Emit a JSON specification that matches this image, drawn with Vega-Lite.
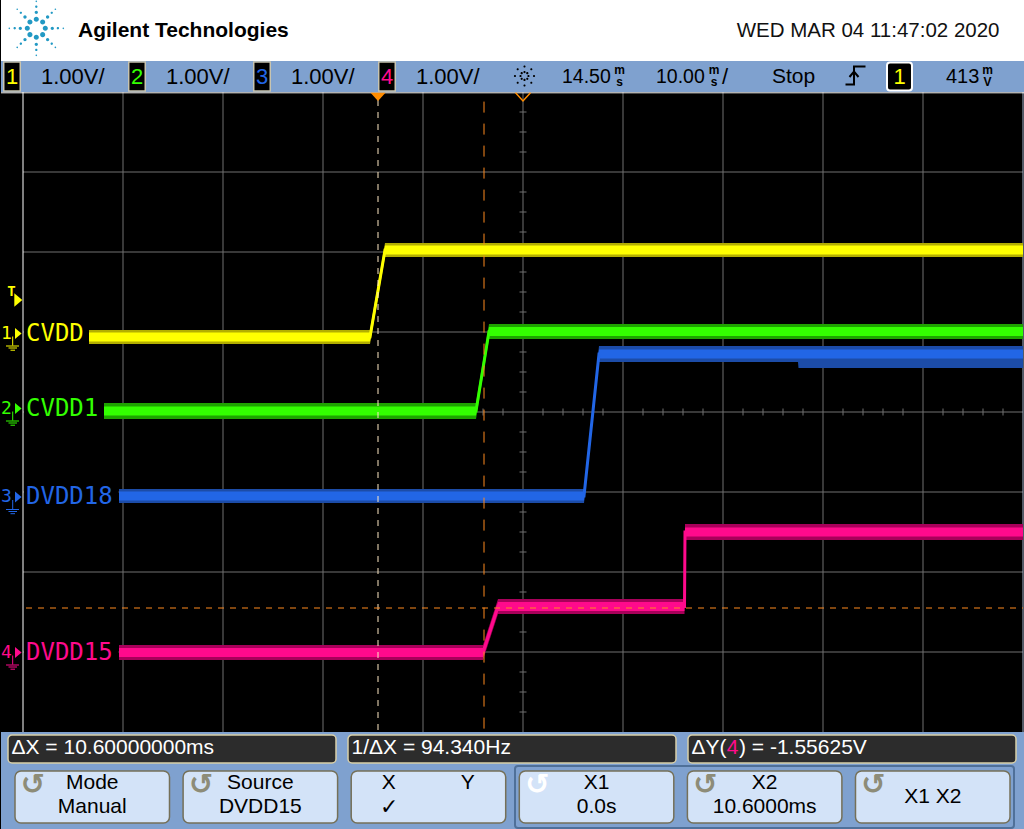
{
"$schema": "https://vega.github.io/schema/vega-lite/v6.json",
"background": "#000000",
"padding": 0,
"spacing": 0,
"bounds": "flush",
"resolve": {"scale": {"color": "independent"}},
"config": {"view": {"stroke": null}, "font": "Liberation Sans"},
"datasets": {
 "one": [{}],
 "wave": [
  {"ch":"1","t":-28.9,"level":0.9375,"hi":1.025,"lo":0.85,"chi":0.9925,"clo":0.8825},
  {"ch":"1","t":-0.8,"level":0.9375,"hi":1.025,"lo":0.85,"chi":0.9925,"clo":0.8825},
  {"ch":"1","t":0.7,"level":2.025,"hi":2.1125,"lo":1.9375,"chi":2.08,"clo":1.97},
  {"ch":"1","t":64.5,"level":2.025,"hi":2.1125,"lo":1.9375,"chi":2.08,"clo":1.97},
  {"ch":"2","t":-27.4,"level":0.0125,"hi":0.1125,"lo":-0.0875,"chi":0.0675,"clo":-0.0425},
  {"ch":"2","t":9.8,"level":0.0125,"hi":0.1125,"lo":-0.0875,"chi":0.0675,"clo":-0.0425},
  {"ch":"2","t":11.1,"level":1.00625,"hi":1.1,"lo":0.9125,"chi":1.06125,"clo":0.95125},
  {"ch":"2","t":64.5,"level":1.00625,"hi":1.1,"lo":0.9125,"chi":1.06125,"clo":0.95125},
  {"ch":"3","t":-25.9,"level":-1.05,"hi":-0.9625,"lo":-1.1375,"chi":-0.995,"clo":-1.105},
  {"ch":"3","t":20.6,"level":-1.05,"hi":-0.9625,"lo":-1.1375,"chi":-0.995,"clo":-1.105},
  {"ch":"3","t":22.1,"level":0.725,"hi":0.825,"lo":0.625,"chi":0.78,"clo":0.67},
  {"ch":"3","t":42.0,"level":0.725,"hi":0.825,"lo":0.625,"chi":0.78,"clo":0.67},
  {"ch":"3","t":42.05,"level":0.725,"hi":0.825,"lo":0.55,"chi":0.78,"clo":0.67},
  {"ch":"3","t":64.5,"level":0.725,"hi":0.825,"lo":0.55,"chi":0.78,"clo":0.67},
  {"ch":"4","t":-25.9,"level":-3.00625,"hi":-2.9125,"lo":-3.1,"chi":-2.95125,"clo":-3.06125},
  {"ch":"4","t":10.5,"level":-3.00625,"hi":-2.9125,"lo":-3.1,"chi":-2.95125,"clo":-3.06125},
  {"ch":"4","t":12.0,"level":-2.43125,"hi":-2.3375,"lo":-2.525,"chi":-2.37625,"clo":-2.48625},
  {"ch":"4","t":30.65,"level":-2.43125,"hi":-2.3375,"lo":-2.525,"chi":-2.37625,"clo":-2.48625},
  {"ch":"4","t":30.7,"level":-1.5,"hi":-1.4,"lo":-1.6,"chi":-1.445,"clo":-1.555},
  {"ch":"4","t":64.5,"level":-1.5,"hi":-1.4,"lo":-1.6,"chi":-1.445,"clo":-1.555}
 ],
 "chans": [
  {"ch":"1","name":"CVDD","gnd":0.98125},
  {"ch":"2","name":"CVDD1","gnd":0.04375},
  {"ch":"3","name":"DVDD18","gnd":-1.0625},
  {"ch":"4","name":"DVDD15","gnd":-3.00625}
 ],
 "status": [
  {"ch":"1","vdiv":"1.00V/"},
  {"ch":"2","vdiv":"1.00V/"},
  {"ch":"3","vdiv":"1.00V/"},
  {"ch":"4","vdiv":"1.00V/"}
 ],
 "meas": [
  {"m":"a","label":"ΔX = 10.60000000ms"},
  {"m":"b","label":"1/ΔX = 94.340Hz"},
  {"m":"c","label":"ΔY("}
 ],
 "keys": [
  {"key":"1","line1":"Mode","line2":"Manual","single":"","icon":"↺","state":"off"},
  {"key":"2","line1":"Source","line2":"DVDD15","single":"","icon":"↺","state":"off"},
  {"key":"3","line1":"","line2":"","single":"","icon":"","state":"off"},
  {"key":"4","line1":"X1","line2":"0.0s","single":"","icon":"↺","state":"on"},
  {"key":"5","line1":"X2","line2":"10.6000ms","single":"","icon":"↺","state":"off"},
  {"key":"6","line1":"","line2":"","single":"X1 X2","icon":"↺","state":"off"}
 ],
 "xticks": [{"t":-33.5},{"t":-31.5},{"t":-29.5},{"t":-27.5},{"t":-23.5},{"t":-21.5},{"t":-19.5},{"t":-17.5},{"t":-13.5},{"t":-11.5},{"t":-9.5},{"t":-7.5},{"t":-3.5},{"t":-1.5},{"t":0.5},{"t":2.5},{"t":6.5},{"t":8.5},{"t":10.5},{"t":12.5},{"t":16.5},{"t":18.5},{"t":20.5},{"t":22.5},{"t":26.5},{"t":28.5},{"t":30.5},{"t":32.5},{"t":36.5},{"t":38.5},{"t":40.5},{"t":42.5},{"t":46.5},{"t":48.5},{"t":50.5},{"t":52.5},{"t":56.5},{"t":58.5},{"t":60.5},{"t":62.5}],
 "yticks": [{"g":-3.75},{"g":-3.5},{"g":-3.25},{"g":-2.75},{"g":-2.5},{"g":-2.25},{"g":-1.75},{"g":-1.5},{"g":-1.25},{"g":-0.75},{"g":-0.5},{"g":-0.25},{"g":0.25},{"g":0.5},{"g":0.75},{"g":1.25},{"g":1.5},{"g":1.75},{"g":2.25},{"g":2.5},{"g":2.75},{"g":3.25},{"g":3.5},{"g":3.75}]
},
"vconcat": [
 {
  "width": 1024, "height": 92,
  "view": {"fill": "#FFFFFF", "stroke": null},
  "resolve": {"scale": {"x": "independent"}},
  "layer": [
   {
    "data": {"name": "one"},
    "layer": [
     {"mark": {"type": "rect", "color": "#7FA1CF"},
      "encoding": {"x": {"datum": 0, "type": "quantitative", "scale": {"domain": [0, 1024], "nice": false, "zero": false}, "axis": null},
                   "x2": {"datum": 1024},
                   "y": {"datum": 61, "type": "quantitative", "scale": {"domain": [0, 92], "reverse": true, "nice": false, "zero": false}, "axis": null},
                   "y2": {"datum": 92}}},
     {"mark": {"type": "point", "shape": "M-0.085,-0.3a0.085,0.085 0 1 0 0.17,0a0.085,0.085 0 1 0 -0.17,0M0.127,-0.212a0.085,0.085 0 1 0 0.17,0a0.085,0.085 0 1 0 -0.17,0M0.215,0a0.085,0.085 0 1 0 0.17,0a0.085,0.085 0 1 0 -0.17,0M0.127,0.212a0.085,0.085 0 1 0 0.17,0a0.085,0.085 0 1 0 -0.17,0M-0.085,0.3a0.085,0.085 0 1 0 0.17,0a0.085,0.085 0 1 0 -0.17,0M-0.297,0.212a0.085,0.085 0 1 0 0.17,0a0.085,0.085 0 1 0 -0.17,0M-0.385,0a0.085,0.085 0 1 0 0.17,0a0.085,0.085 0 1 0 -0.17,0M-0.297,-0.212a0.085,0.085 0 1 0 0.17,0a0.085,0.085 0 1 0 -0.17,0M-0.055,-0.533a0.055,0.055 0 1 0 0.11,0a0.055,0.055 0 1 0 -0.11,0M0.322,-0.377a0.055,0.055 0 1 0 0.11,0a0.055,0.055 0 1 0 -0.11,0M0.478,0a0.055,0.055 0 1 0 0.11,0a0.055,0.055 0 1 0 -0.11,0M0.322,0.377a0.055,0.055 0 1 0 0.11,0a0.055,0.055 0 1 0 -0.11,0M-0.055,0.533a0.055,0.055 0 1 0 0.11,0a0.055,0.055 0 1 0 -0.11,0M-0.432,0.377a0.055,0.055 0 1 0 0.11,0a0.055,0.055 0 1 0 -0.11,0M-0.588,0a0.055,0.055 0 1 0 0.11,0a0.055,0.055 0 1 0 -0.11,0M-0.432,-0.377a0.055,0.055 0 1 0 0.11,0a0.055,0.055 0 1 0 -0.11,0M-0.04,-0.72a0.04,0.04 0 1 0 0.08,0a0.04,0.04 0 1 0 -0.08,0M0.475,-0.515a0.04,0.04 0 1 0 0.08,0a0.04,0.04 0 1 0 -0.08,0M0.68,0a0.04,0.04 0 1 0 0.08,0a0.04,0.04 0 1 0 -0.08,0M0.475,0.515a0.04,0.04 0 1 0 0.08,0a0.04,0.04 0 1 0 -0.08,0M-0.04,0.72a0.04,0.04 0 1 0 0.08,0a0.04,0.04 0 1 0 -0.08,0M-0.555,0.515a0.04,0.04 0 1 0 0.08,0a0.04,0.04 0 1 0 -0.08,0M-0.76,0a0.04,0.04 0 1 0 0.08,0a0.04,0.04 0 1 0 -0.08,0M-0.555,-0.515a0.04,0.04 0 1 0 0.08,0a0.04,0.04 0 1 0 -0.08,0M-0.028,-0.9a0.028,0.028 0 1 0 0.056,0a0.028,0.028 0 1 0 -0.056,0M0.608,-0.636a0.028,0.028 0 1 0 0.056,0a0.028,0.028 0 1 0 -0.056,0M0.872,0a0.028,0.028 0 1 0 0.056,0a0.028,0.028 0 1 0 -0.056,0M0.608,0.636a0.028,0.028 0 1 0 0.056,0a0.028,0.028 0 1 0 -0.056,0M-0.028,0.9a0.028,0.028 0 1 0 0.056,0a0.028,0.028 0 1 0 -0.056,0M-0.664,0.636a0.028,0.028 0 1 0 0.056,0a0.028,0.028 0 1 0 -0.056,0M-0.928,0a0.028,0.028 0 1 0 0.056,0a0.028,0.028 0 1 0 -0.056,0M-0.664,-0.636a0.028,0.028 0 1 0 0.056,0a0.028,0.028 0 1 0 -0.056,0", "size": 3600, "filled": true, "color": "#2299C4", "opacity": 1, "strokeWidth": 0},
      "encoding": {"x": {"datum": 35.3, "axis": null}, "y": {"datum": 28.3, "axis": null}}},
     {"mark": {"type": "text", "text": "Agilent Technologies", "align": "left", "baseline": "alphabetic", "fontWeight": "bold", "fontSize": 21, "color": "#000000"},
      "encoding": {"x": {"datum": 77, "axis": null}, "y": {"datum": 36.7, "axis": null}}},
     {"mark": {"type": "text", "text": "WED MAR 04 11:47:02 2020", "align": "right", "baseline": "alphabetic", "fontSize": 20.5, "color": "#111111"},
      "encoding": {"x": {"datum": 998.5, "axis": null}, "y": {"datum": 37.3, "axis": null}}},
     {"mark": {"type": "point", "shape": "M-0.085,-0.3a0.085,0.085 0 1 0 0.17,0a0.085,0.085 0 1 0 -0.17,0M0.127,-0.212a0.085,0.085 0 1 0 0.17,0a0.085,0.085 0 1 0 -0.17,0M0.215,0a0.085,0.085 0 1 0 0.17,0a0.085,0.085 0 1 0 -0.17,0M0.127,0.212a0.085,0.085 0 1 0 0.17,0a0.085,0.085 0 1 0 -0.17,0M-0.085,0.3a0.085,0.085 0 1 0 0.17,0a0.085,0.085 0 1 0 -0.17,0M-0.297,0.212a0.085,0.085 0 1 0 0.17,0a0.085,0.085 0 1 0 -0.17,0M-0.385,0a0.085,0.085 0 1 0 0.17,0a0.085,0.085 0 1 0 -0.17,0M-0.297,-0.212a0.085,0.085 0 1 0 0.17,0a0.085,0.085 0 1 0 -0.17,0M-0.08,-0.72a0.08,0.08 0 1 0 0.16,0a0.08,0.08 0 1 0 -0.16,0M0.435,-0.515a0.08,0.08 0 1 0 0.16,0a0.08,0.08 0 1 0 -0.16,0M0.64,0a0.08,0.08 0 1 0 0.16,0a0.08,0.08 0 1 0 -0.16,0M0.435,0.515a0.08,0.08 0 1 0 0.16,0a0.08,0.08 0 1 0 -0.16,0M-0.08,0.72a0.08,0.08 0 1 0 0.16,0a0.08,0.08 0 1 0 -0.16,0M-0.595,0.515a0.08,0.08 0 1 0 0.16,0a0.08,0.08 0 1 0 -0.16,0M-0.8,0a0.08,0.08 0 1 0 0.16,0a0.08,0.08 0 1 0 -0.16,0M-0.595,-0.515a0.08,0.08 0 1 0 0.16,0a0.08,0.08 0 1 0 -0.16,0", "size": 700, "filled": true, "color": "#000000", "opacity": 1, "strokeWidth": 0},
      "encoding": {"x": {"datum": 523.5, "axis": null}, "y": {"datum": 76, "axis": null}}},
     {"mark": {"type": "text", "text": "14.50", "align": "left", "baseline": "middle", "fontSize": 19.5, "color": "#000000"},
      "encoding": {"x": {"datum": 561, "axis": null}, "y": {"datum": 77, "axis": null}}},
     {"mark": {"type": "text", "text": "m", "align": "center", "baseline": "middle", "fontSize": 12, "fontWeight": "bold", "color": "#000000"},
      "encoding": {"x": {"datum": 618.5, "axis": null}, "y": {"datum": 69.5, "axis": null}}},
     {"mark": {"type": "text", "text": "s", "align": "center", "baseline": "middle", "fontSize": 12, "fontWeight": "bold", "color": "#000000"},
      "encoding": {"x": {"datum": 618.5, "axis": null}, "y": {"datum": 82, "axis": null}}},
     {"mark": {"type": "text", "text": "10.00", "align": "left", "baseline": "middle", "fontSize": 19.5, "color": "#000000"},
      "encoding": {"x": {"datum": 655, "axis": null}, "y": {"datum": 77, "axis": null}}},
     {"mark": {"type": "text", "text": "m", "align": "center", "baseline": "middle", "fontSize": 12, "fontWeight": "bold", "color": "#000000"},
      "encoding": {"x": {"datum": 713, "axis": null}, "y": {"datum": 69.5, "axis": null}}},
     {"mark": {"type": "text", "text": "s", "align": "center", "baseline": "middle", "fontSize": 12, "fontWeight": "bold", "color": "#000000"},
      "encoding": {"x": {"datum": 713, "axis": null}, "y": {"datum": 82, "axis": null}}},
     {"mark": {"type": "text", "text": "/", "align": "left", "baseline": "middle", "fontSize": 22, "color": "#000000"},
      "encoding": {"x": {"datum": 721, "axis": null}, "y": {"datum": 77, "axis": null}}},
     {"mark": {"type": "text", "text": "Stop", "align": "left", "baseline": "middle", "fontSize": 21, "color": "#000000"},
      "encoding": {"x": {"datum": 771, "axis": null}, "y": {"datum": 77, "axis": null}}},
     {"mark": {"type": "point", "shape": "M-1,0.9L-0.15,0.9L-0.15,-0.9L1,-0.9M-0.6,0.15L-0.15,-0.4L0.3,0.15", "size": 400, "filled": false, "color": "#000000", "strokeWidth": 2, "opacity": 1},
      "encoding": {"x": {"datum": 854.5, "axis": null}, "y": {"datum": 75.5, "axis": null}}},
     {"mark": {"type": "rect", "fill": "#000000", "stroke": "#FFFFFF", "strokeWidth": 2, "cornerRadius": 3},
      "encoding": {"x": {"datum": 886, "axis": null}, "x2": {"datum": 911}, "y": {"datum": 62.5, "axis": null}, "y2": {"datum": 90.5}}},
     {"mark": {"type": "text", "text": "1", "align": "center", "baseline": "middle", "fontSize": 22, "color": "#FFFF00"},
      "encoding": {"x": {"datum": 898.5, "axis": null}, "y": {"datum": 77, "axis": null}}},
     {"mark": {"type": "text", "text": "413", "align": "left", "baseline": "middle", "fontSize": 20, "color": "#000000"},
      "encoding": {"x": {"datum": 945, "axis": null}, "y": {"datum": 77, "axis": null}}},
     {"mark": {"type": "text", "text": "m", "align": "center", "baseline": "middle", "fontSize": 12, "fontWeight": "bold", "color": "#000000"},
      "encoding": {"x": {"datum": 986.5, "axis": null}, "y": {"datum": 69.5, "axis": null}}},
     {"mark": {"type": "text", "text": "V", "align": "center", "baseline": "middle", "fontSize": 12, "fontWeight": "bold", "color": "#000000"},
      "encoding": {"x": {"datum": 986.5, "axis": null}, "y": {"datum": 82, "axis": null}}}
    ]
   },
   {
    "data": {"name": "status"},
    "layer": [
     {"mark": {"type": "point", "shape": "M-0.57,-1L0.57,-1L0.57,1L-0.57,1Z", "size": 841, "filled": true, "fill": "#000000", "stroke": "#C8C4B0", "strokeWidth": 1.5, "opacity": 1},
      "encoding": {"x": {"field": "ch", "type": "ordinal", "scale": {"type": "point", "range": [11, 386], "padding": 0}, "axis": null}, "y": {"datum": 76.5, "axis": null}}},
     {"mark": {"type": "text", "fontSize": 22, "baseline": "middle", "align": "center"},
      "encoding": {"x": {"field": "ch", "type": "ordinal", "axis": null}, "y": {"datum": 77, "axis": null}, "text": {"field": "ch", "type": "nominal"},
                   "color": {"field": "ch", "type": "nominal", "scale": {"domain": ["1", "2", "3", "4"], "range": ["#FFFF00", "#33FF00", "#2266E6", "#FF0A8C"]}, "legend": null}}},
     {"mark": {"type": "text", "fontSize": 22, "baseline": "middle", "align": "left", "xOffset": 29, "color": "#000000"},
      "encoding": {"x": {"field": "ch", "type": "ordinal", "axis": null}, "y": {"datum": 77, "axis": null}, "text": {"field": "vdiv", "type": "nominal"}}}
    ]
   }
  ]
 },
 {
  "width": 1024, "height": 640,
  "view": {"fill": "#000000", "stroke": null},
  "resolve": {"scale": {"color": "independent"}},
  "layer": [
   {"data": {"values": [{"t": -25.5}, {"t": -15.5}, {"t": -5.5}, {"t": 4.5}, {"t": 14.5}, {"t": 24.5}, {"t": 34.5}, {"t": 44.5}, {"t": 54.5}]},
    "mark": {"type": "rule", "color": "#707070", "strokeWidth": 1},
    "encoding": {"x": {"field": "t", "type": "quantitative", "scale": {"domain": [-37.7, 64.7], "nice": false, "zero": false}, "axis": null},
                 "y": {"datum": 4, "type": "quantitative", "scale": {"domain": [-4, 4], "nice": false, "zero": false}, "axis": null}, "y2": {"datum": -4}}},
   {"data": {"values": [{"g": -3}, {"g": -2}, {"g": -1}, {"g": 0}, {"g": 1}, {"g": 2}, {"g": 3}]},
    "mark": {"type": "rule", "color": "#707070", "strokeWidth": 1},
    "encoding": {"y": {"field": "g", "type": "quantitative", "axis": null}, "x": {"datum": -35.5, "axis": null}, "x2": {"datum": 64.5}}},
   {"data": {"name": "xticks"},
    "mark": {"type": "tick", "orient": "vertical", "color": "#707070", "size": 7, "thickness": 1, "opacity": 1},
    "encoding": {"x": {"field": "t", "type": "quantitative", "axis": null}, "y": {"datum": 0, "axis": null}}},
   {"data": {"name": "yticks"},
    "mark": {"type": "tick", "orient": "horizontal", "color": "#707070", "size": 7, "thickness": 1, "opacity": 1},
    "encoding": {"y": {"field": "g", "type": "quantitative", "axis": null}, "x": {"datum": 14.5, "axis": null}}},
   {"data": {"name": "one"},
    "mark": {"type": "rule", "color": "#FFFFFF", "strokeWidth": 1},
    "encoding": {"x": {"datum": -35.5, "axis": null}, "y": {"datum": 4, "axis": null}, "y2": {"datum": -4}}},
   {"data": {"name": "one"},
    "mark": {"type": "rule", "color": "#A4B4CC", "strokeWidth": 1},
    "encoding": {"x": {"datum": 64.5, "axis": null}, "y": {"datum": 4, "axis": null}, "y2": {"datum": -4}}},
   {"data": {"name": "one"},
    "mark": {"type": "rule", "color": "#FFFFFF", "strokeWidth": 1},
    "encoding": {"y": {"datum": 3.99, "axis": null}, "x": {"datum": -37.7, "axis": null}, "x2": {"datum": 64.7}}},
   {"data": {"name": "chans"},
    "mark": {"type": "rect", "color": "#000000", "yOffset": -11, "y2Offset": 11},
    "encoding": {"x": {"datum": -35.4, "axis": null}, "x2": {"datum": -25.95}, "y": {"field": "gnd", "type": "quantitative", "axis": null}, "y2": {"field": "gnd"}}},
   {"data": {"name": "wave"},
    "mark": {"type": "area", "opacity": 1},
    "encoding": {"x": {"field": "t", "type": "quantitative", "axis": null}, "y": {"field": "hi", "type": "quantitative", "stack": null, "axis": null}, "y2": {"field": "lo"},
                 "color": {"field": "ch", "type": "nominal", "scale": {"domain": ["1", "2", "3", "4"], "range": ["#B3AE00", "#1EA300", "#1C4CA8", "#A8005A"]}, "legend": null}}},
   {"data": {"name": "wave"},
    "mark": {"type": "area", "opacity": 1},
    "encoding": {"x": {"field": "t", "type": "quantitative", "axis": null}, "y": {"field": "chi", "type": "quantitative", "stack": null, "axis": null}, "y2": {"field": "clo"},
                 "color": {"field": "ch", "type": "nominal", "scale": {"domain": ["1", "2", "3", "4"], "range": ["#FFFF00", "#33FF00", "#2266E6", "#FF0A8C"]}, "legend": null}}},
   {"data": {"name": "wave"},
    "mark": {"type": "line", "strokeWidth": 3, "strokeCap": "butt"},
    "encoding": {"x": {"field": "t", "type": "quantitative", "axis": null}, "y": {"field": "level", "type": "quantitative", "axis": null},
                 "color": {"field": "ch", "type": "nominal", "scale": {"domain": ["1", "2", "3", "4"], "range": ["#FFFF00", "#33FF00", "#2266E6", "#FF0A8C"]}, "legend": null}}},
   {"data": {"name": "one"},
    "mark": {"type": "rule", "color": "#FFE9C4", "strokeDash": [6, 6], "strokeWidth": 1},
    "encoding": {"x": {"datum": 0, "axis": null}, "y": {"datum": 3.9, "axis": null}, "y2": {"datum": -4}}},
   {"data": {"name": "one"},
    "mark": {"type": "rule", "color": "#FF8A1E", "strokeDash": [11, 11], "strokeWidth": 1},
    "encoding": {"x": {"datum": 10.6, "axis": null}, "y": {"datum": 3.88, "axis": null}, "y2": {"datum": -4}}},
   {"data": {"name": "one"},
    "mark": {"type": "rule", "color": "#FF8A1E", "strokeDash": [6, 6], "strokeWidth": 1},
    "encoding": {"x": {"datum": -35.2, "axis": null}, "x2": {"datum": 64.5}, "y": {"datum": -2.45, "axis": null}}},
   {"data": {"name": "one"},
    "mark": {"type": "point", "shape": "M-1,-0.55L1,-0.55L0,0.55Z", "size": 225, "filled": true, "color": "#FF8C00", "opacity": 1, "strokeWidth": 0},
    "encoding": {"x": {"datum": 0, "axis": null}, "y": {"datum": 3.94, "axis": null}}},
   {"data": {"name": "one"},
    "mark": {"type": "point", "shape": "M-1,-0.55L0,0.55L1,-0.55", "size": 225, "filled": false, "color": "#FF8C00", "strokeWidth": 1.5, "opacity": 1},
    "encoding": {"x": {"datum": 14.5, "axis": null}, "y": {"datum": 3.94, "axis": null}}},
   {"data": {"name": "chans"},
    "mark": {"type": "text", "align": "left", "baseline": "middle", "font": "DejaVu Sans Mono", "fontSize": 24},
    "encoding": {"x": {"datum": -35.2, "axis": null}, "y": {"field": "gnd", "type": "quantitative", "axis": null}, "text": {"field": "name", "type": "nominal"},
                 "color": {"field": "ch", "type": "nominal", "scale": {"domain": ["1", "2", "3", "4"], "range": ["#FFFF00", "#33FF00", "#2266E6", "#FF0A8C"]}, "legend": null}}},
   {"data": {"name": "chans"},
    "mark": {"type": "text", "align": "center", "baseline": "middle", "font": "DejaVu Sans Mono", "fontSize": 18},
    "encoding": {"x": {"datum": -37.15, "axis": null}, "y": {"field": "gnd", "type": "quantitative", "axis": null}, "text": {"field": "ch", "type": "nominal"},
                 "color": {"field": "ch", "type": "nominal", "scale": {"domain": ["1", "2", "3", "4"], "range": ["#FFFF00", "#33FF00", "#2266E6", "#FF0A8C"]}, "legend": null}}},
   {"data": {"name": "chans"},
    "mark": {"type": "point", "shape": "M-0.6,-1L0.6,0L-0.6,1Z", "size": 121, "filled": true, "opacity": 1, "strokeWidth": 0},
    "encoding": {"x": {"datum": -35.97, "axis": null}, "y": {"field": "gnd", "type": "quantitative", "axis": null},
                 "color": {"field": "ch", "type": "nominal", "scale": {"domain": ["1", "2", "3", "4"], "range": ["#FFFF00", "#33FF00", "#2266E6", "#FF0A8C"]}, "legend": null}}},
   {"data": {"name": "chans"},
    "mark": {"type": "rule", "strokeWidth": 1, "yOffset": 3, "y2Offset": 12},
    "encoding": {"x": {"datum": -36.53, "axis": null}, "y": {"field": "gnd", "type": "quantitative", "axis": null}, "y2": {"field": "gnd"},
                 "color": {"field": "ch", "type": "nominal", "scale": {"domain": ["1", "2", "3", "4"], "range": ["#FFFF00", "#33FF00", "#2266E6", "#FF0A8C"]}, "legend": null}}},
   {"data": {"name": "chans"},
    "mark": {"type": "rule", "strokeWidth": 1, "yOffset": 12.5},
    "encoding": {"x": {"datum": -37.2, "axis": null}, "x2": {"datum": -35.9}, "y": {"field": "gnd", "type": "quantitative", "axis": null},
                 "color": {"field": "ch", "type": "nominal", "scale": {"domain": ["1", "2", "3", "4"], "range": ["#FFFF00", "#33FF00", "#2266E6", "#FF0A8C"]}, "legend": null}}},
   {"data": {"name": "chans"},
    "mark": {"type": "rule", "strokeWidth": 1, "yOffset": 14.5},
    "encoding": {"x": {"datum": -36.95, "axis": null}, "x2": {"datum": -36.1}, "y": {"field": "gnd", "type": "quantitative", "axis": null},
                 "color": {"field": "ch", "type": "nominal", "scale": {"domain": ["1", "2", "3", "4"], "range": ["#FFFF00", "#33FF00", "#2266E6", "#FF0A8C"]}, "legend": null}}},
   {"data": {"name": "chans"},
    "mark": {"type": "rule", "strokeWidth": 1, "yOffset": 16.7},
    "encoding": {"x": {"datum": -36.75, "axis": null}, "x2": {"datum": -36.3}, "y": {"field": "gnd", "type": "quantitative", "axis": null},
                 "color": {"field": "ch", "type": "nominal", "scale": {"domain": ["1", "2", "3", "4"], "range": ["#FFFF00", "#33FF00", "#2266E6", "#FF0A8C"]}, "legend": null}}},
   {"data": {"name": "one"},
    "mark": {"type": "text", "text": "T", "align": "center", "baseline": "middle", "font": "DejaVu Sans Mono", "fontWeight": "bold", "fontSize": 14, "color": "#FFFF00"},
    "encoding": {"x": {"datum": -36.65, "axis": null}, "y": {"datum": 1.5, "axis": null}}},
   {"data": {"name": "one"},
    "mark": {"type": "point", "shape": "M-0.6,-1L0.6,0L-0.6,1Z", "size": 177, "filled": true, "color": "#FFFF00", "opacity": 1, "strokeWidth": 0},
    "encoding": {"x": {"datum": -35.97, "axis": null}, "y": {"datum": 1.4, "axis": null}}}
  ]
 },
 {
  "width": 1024, "height": 97,
  "view": {"fill": "#7FA1CF", "stroke": null},
  "resolve": {"scale": {"x": "independent"}},
  "layer": [
   {
    "data": {"name": "one"},
    "layer": [
     {"mark": {"type": "rect", "fillOpacity": 0, "stroke": "#4F7099", "strokeWidth": 2, "cornerRadius": 3},
      "encoding": {"x": {"datum": 514, "type": "quantitative", "scale": {"domain": [0, 1024], "nice": false, "zero": false}, "axis": null}, "x2": {"datum": 1013},
                   "y": {"datum": 34, "type": "quantitative", "scale": {"domain": [0, 97], "reverse": true, "nice": false, "zero": false}, "axis": null}, "y2": {"datum": 96}}}
    ]
   },
   {
    "data": {"name": "meas"},
    "layer": [
     {"mark": {"type": "rect", "fill": "#2C2C2C", "stroke": "#D8CFA8", "strokeWidth": 1.5, "cornerRadius": 4},
      "encoding": {"x": {"field": "m", "type": "ordinal", "scale": {"type": "band", "range": [7, 1015], "paddingInner": 0.0353, "paddingOuter": 0}, "axis": null},
                   "y": {"datum": 3, "axis": null}, "y2": {"datum": 31}}},
     {"mark": {"type": "text", "align": "left", "baseline": "middle", "fontSize": 21, "color": "#FFFFFF", "xOffset": -160.5},
      "encoding": {"x": {"field": "m", "type": "ordinal", "axis": null}, "y": {"datum": 15.5, "axis": null}, "text": {"field": "label", "type": "nominal"}}}
    ]
   },
   {
    "data": {"name": "keys"},
    "layer": [
     {"mark": {"type": "rect", "fill": "#D3E3F8", "stroke": "#757058", "strokeWidth": 1.5, "cornerRadius": 6},
      "encoding": {"x": {"field": "key", "type": "ordinal", "scale": {"type": "band", "range": [14, 1009], "paddingInner": 0.0809, "paddingOuter": 0}, "axis": null},
                   "y": {"datum": 39, "axis": null}, "y2": {"datum": 91}}},
     {"mark": {"type": "text", "align": "center", "baseline": "middle", "font": "DejaVu Sans", "fontSize": 29, "fontWeight": "bold", "xOffset": -59.25},
      "encoding": {"x": {"field": "key", "type": "ordinal", "axis": null}, "y": {"datum": 53, "axis": null}, "text": {"field": "icon", "type": "nominal"},
                   "color": {"field": "state", "type": "nominal", "scale": {"domain": ["off", "on"], "range": ["#8D8C78", "#FFFFFF"]}, "legend": null}}},
     {"mark": {"type": "text", "align": "center", "baseline": "middle", "fontSize": 21, "color": "#000000"},
      "encoding": {"x": {"field": "key", "type": "ordinal", "axis": null}, "y": {"datum": 51.3, "axis": null}, "text": {"field": "line1", "type": "nominal"}}},
     {"mark": {"type": "text", "align": "center", "baseline": "middle", "fontSize": 21, "color": "#000000"},
      "encoding": {"x": {"field": "key", "type": "ordinal", "axis": null}, "y": {"datum": 75.3, "axis": null}, "text": {"field": "line2", "type": "nominal"}}},
     {"mark": {"type": "text", "align": "center", "baseline": "middle", "fontSize": 21, "color": "#000000"},
      "encoding": {"x": {"field": "key", "type": "ordinal", "axis": null}, "y": {"datum": 64.7, "axis": null}, "text": {"field": "single", "type": "nominal"}}}
    ]
   },
   {
    "data": {"name": "one"},
    "layer": [
     {"mark": {"type": "text", "text": "4", "align": "center", "baseline": "middle", "fontSize": 21, "color": "#FF0A8C"},
      "encoding": {"x": {"datum": 731.5, "type": "quantitative", "scale": {"domain": [0, 1024], "nice": false, "zero": false}, "axis": null}, "y": {"datum": 15.5, "axis": null}}},
     {"mark": {"type": "text", "text": ") = -1.55625V", "align": "left", "baseline": "middle", "fontSize": 21, "color": "#FFFFFF"},
      "encoding": {"x": {"datum": 738, "axis": null}, "y": {"datum": 15.5, "axis": null}}},
     {"mark": {"type": "text", "text": "X", "align": "center", "baseline": "middle", "fontSize": 21, "color": "#000000"},
      "encoding": {"x": {"datum": 387.7, "axis": null}, "y": {"datum": 51.3, "axis": null}}},
     {"mark": {"type": "text", "text": "Y", "align": "center", "baseline": "middle", "fontSize": 21, "color": "#000000"},
      "encoding": {"x": {"datum": 466.7, "axis": null}, "y": {"datum": 51.3, "axis": null}}},
     {"mark": {"type": "text", "text": "✓", "align": "center", "baseline": "middle", "font": "DejaVu Sans", "fontSize": 22, "color": "#000000"},
      "encoding": {"x": {"datum": 388.3, "axis": null}, "y": {"datum": 75.3, "axis": null}}}
    ]
   }
  ]
 }
]
}
